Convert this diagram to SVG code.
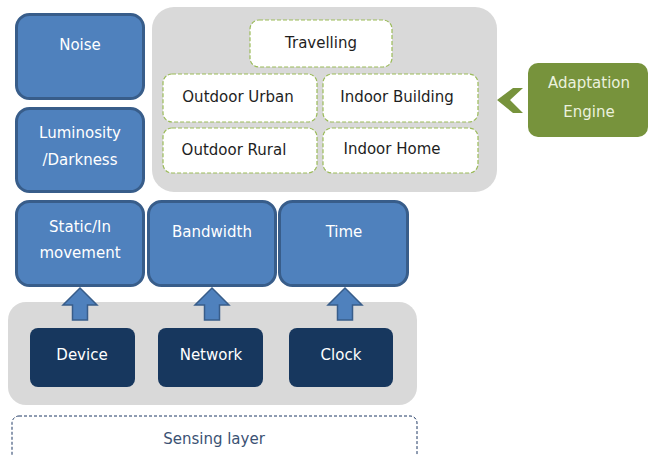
<svg xmlns="http://www.w3.org/2000/svg" width="650" height="456" viewBox="0 0 650 456">
<style>
text{font-family:"DejaVu Sans","Liberation Sans",sans-serif;font-size:15px;text-anchor:middle}
.panel{fill:#d9d9d9}
.blue{fill:#4f81bd;stroke:#385d8a;stroke-width:3}
.dark{fill:#17375e}
.ctx{fill:#ffffff;stroke:#9bbb59;stroke-width:1.2;stroke-dasharray:4 2}
.wt{fill:#ffffff}
.bk{fill:#1e1e1e}
.arrow{fill:#4f81bd;stroke:#385d8a;stroke-width:1.5}
</style>
<rect class="panel" x="152" y="7" width="345" height="185" rx="22"/>
<rect class="panel" x="8" y="302" width="409" height="103" rx="18"/>
<g id="noise"><rect class="blue" x="16.5" y="14.5" width="127" height="84" rx="13"/><text class="wt" x="80" y="50">Noise</text></g>
<g id="luminosity"><rect class="blue" x="16.5" y="108.5" width="127" height="83" rx="13"/><text class="wt" x="80" y="138">Luminosity</text><text class="wt" x="80" y="165">/Darkness</text></g>
<g id="static"><rect class="blue" x="16.5" y="201.5" width="127" height="84" rx="13"/><text class="wt" x="80" y="232">Static/In</text><text class="wt" x="80" y="258">movement</text></g>
<g id="bandwidth"><rect class="blue" x="148.5" y="201.5" width="127" height="84" rx="13"/><text class="wt" x="212" y="237">Bandwidth</text></g>
<g id="time"><rect class="blue" x="279.5" y="201.5" width="128" height="84" rx="13"/><text class="wt" x="344" y="237">Time</text></g>
<g id="travelling"><rect class="ctx" x="250" y="20" width="142" height="47" rx="9"/><text class="bk" x="321" y="48">Travelling</text></g>
<g id="outdoor-urban"><rect class="ctx" x="163" y="74" width="154" height="48" rx="9"/><text class="bk" x="238" y="102">Outdoor Urban</text></g>
<g id="indoor-building"><rect class="ctx" x="323" y="74" width="155" height="48" rx="9"/><text class="bk" x="397" y="102">Indoor Building</text></g>
<g id="outdoor-rural"><rect class="ctx" x="163" y="128" width="154" height="45" rx="9"/><text class="bk" x="234" y="155">Outdoor Rural</text></g>
<g id="indoor-home"><rect class="ctx" x="323" y="128" width="155" height="45" rx="9"/><text class="bk" x="392" y="154">Indoor Home</text></g>
<g id="adaptation-engine"><rect x="528" y="63" width="120" height="74" rx="10" fill="#77933c"/><text x="589" y="88" fill="#ebf1de">Adaptation</text><text x="589" y="117" fill="#ebf1de">Engine</text></g>
<g id="device"><rect class="dark" x="30" y="328" width="105" height="59" rx="8"/><text class="wt" x="82" y="360">Device</text></g>
<g id="network"><rect class="dark" x="158" y="328" width="105" height="59" rx="8"/><text class="wt" x="211" y="360">Network</text></g>
<g id="clock"><rect class="dark" x="289" y="328" width="104" height="59" rx="8"/><text class="wt" x="341" y="360">Clock</text></g>
<g id="sensing-layer"><rect x="12" y="416" width="405" height="50" rx="7" fill="#ffffff" stroke="#1f3864" stroke-width="1" stroke-dasharray="3 2"/><text x="214" y="444" fill="#3b5274" font-size="14.5px">Sensing layer</text></g>
<g id="connectors">
<polygon class="arrow" points="80,288 97,305 87.5,305 87.5,320 72.5,320 72.5,305 63,305"/>
<polygon class="arrow" points="212,288 229,305 219.5,305 219.5,320 204.5,320 204.5,305 195,305"/>
<polygon class="arrow" points="345,288 362,305 352.5,305 352.5,320 337.5,320 337.5,305 328,305"/>
<polygon points="497,100 513,88 523,88 510,100 523,113 513,113" fill="#77933c"/>
</g>
</svg>
